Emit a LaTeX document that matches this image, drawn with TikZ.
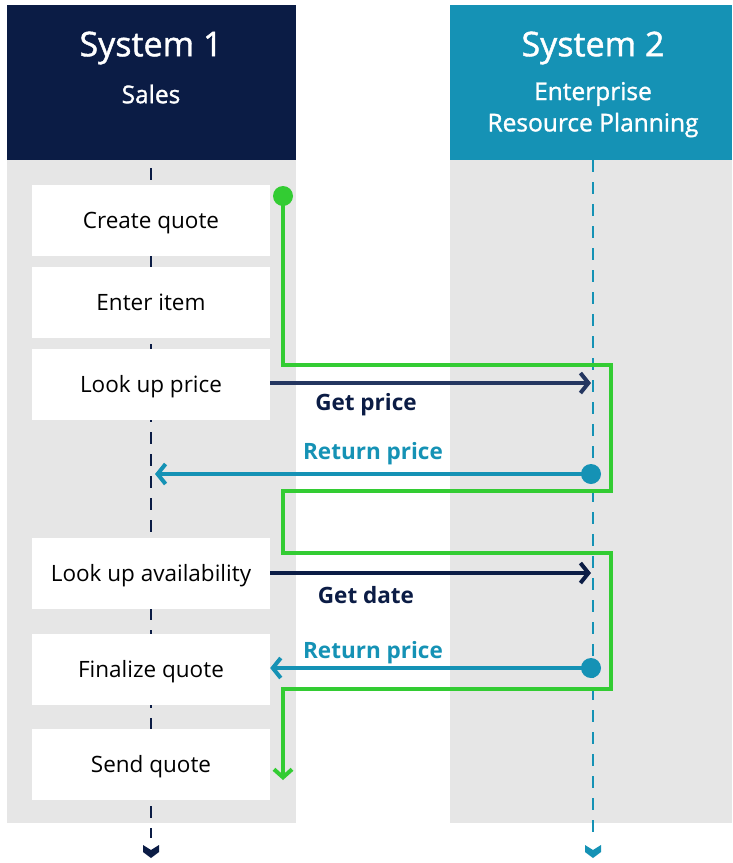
\documentclass[tikz,border=0pt]{standalone}
\usepackage{fontspec}
\setmainfont{Open Sans}
\newfontfamily\semib[FakeBold=1.3]{Open Sans}
\usetikzlibrary{arrows.meta}
\definecolor{navy}{HTML}{0B1C45}
\definecolor{navytwo}{HTML}{243660}
\definecolor{tealc}{HTML}{1592B5}
\definecolor{grn}{HTML}{33CC33}
\definecolor{lgray}{HTML}{E6E6E6}
\begin{document}
\begin{tikzpicture}[x=1pt,y=-1pt,
  stepbox/.style={fill=white, minimum width=238pt, minimum height=71pt, inner sep=0pt},
  btext/.style={font=\fontsize{22.5}{26}\selectfont, text=black, inner sep=0pt, text height=17pt, text depth=5.4pt, yshift=-2.5pt},
  hdr/.style={fill=#1, minimum height=155pt, inner sep=0pt, anchor=north west},
  htitle/.style={text=white, font=\semib\fontsize{34}{40}\selectfont},
  hsub/.style={text=white, font=\semib\fontsize{24.5}{28}\selectfont},
  life/.style={line width=2.5pt, dash pattern=on 12pt off 10pt},
  msg/.style={line width=4pt, -{Straight Barb[length=8pt,width=20pt]}},
  lbl/.style={font=\bfseries\fontsize{22.5}{26}\selectfont},
  flow/.style={grn, line width=4pt, line join=miter}
]
\useasboundingbox (0,0) rectangle (732,863);
% lane backgrounds
\fill[lgray] (7,160) rectangle (296,823);
\fill[lgray] (450,160) rectangle (732,823);
% headers
\node[hdr=navy, minimum width=289pt] (h1) at (7,5) {};
\node[hdr=tealc, minimum width=282pt] (h2) at (450,5) {};
\node[htitle] (t1) at (151,48) {System 1};
\node[hsub] (s1) at (151,94) {Sales};
\node[htitle] (t2) at (593,48) {System 2};
\node[hsub] (s2a) at (593,94) {Enterprise};
\node[hsub] (s2b) at (593,125) {Resource Planning};
% lifelines
\coordinate (l1top) at (151,168);
\coordinate (l1bot) at (151,838);
\coordinate (l2top) at (593,160);
\coordinate (l2bot) at (593,838);
\draw[navy, life] (l1top) -- (l1bot);
\draw[tealc, life] (l2top) -- (l2bot);
% chevrons
\fill[navy] (143,845) -- (151,850) -- (159,845) -- (159,852) -- (151,858) -- (143,852) -- cycle;
\fill[tealc] (585,845) -- (593,850) -- (601,845) -- (601,852) -- (593,858) -- (585,852) -- cycle;
% step boxes
\node[stepbox] (b1) at (151,220) {};
\node[stepbox] (b2) at (151,302.5) {};
\node[stepbox] (b3) at (151,384.5) {};
\node[stepbox] (b4) at (151,573.5) {};
\node[stepbox] (b5) at (151,669.5) {};
\node[stepbox] (b6) at (151,764.5) {};
\node[btext] (b1t) at (b1.center) {Create quote};
\node[btext] (b2t) at (b2.center) {Enter item};
\node[btext] (b3t) at (b3.center) {Look up price};
\node[btext] (b4t) at (b4.center) {Look up availability};
\node[btext] (b5t) at (b5.center) {Finalize quote};
\node[btext] (b6t) at (b6.center) {Send quote};
% green flow
\coordinate (gs) at (283,196);
\coordinate (g1) at (283,365);
\coordinate (g2) at (611,365);
\coordinate (g3) at (611,491);
\coordinate (g4) at (283,491);
\coordinate (g5) at (283,553);
\coordinate (g6) at (611,553);
\coordinate (g7) at (611,689);
\coordinate (g8) at (283,689);
\coordinate (ge) at (283,780);
\draw[flow, -{Straight Barb[length=8pt,width=18pt]}] (gs) -- (g1) -- (g2) -- (g3) -- (g4) -- (g5) -- (g6) -- (g7) -- (g8) -- (ge);
\fill[grn] (gs) circle (10);
% messages
\coordinate (gp) at (591,383);
\coordinate (rp1) at (591,474);
\coordinate (rl1) at (155,474);
\coordinate (gd) at (591,573);
\coordinate (rp2) at (591,668);
\draw[navytwo, msg] (b3.east |- gp) -- (gp);
\draw[tealc, msg] (rp1) -- (rl1);
\fill[tealc] (rp1) circle (10);
\draw[navy, msg] (b4.east |- gd) -- (gd);
\draw[tealc, msg] (rp2) -- (b5.east |- rp2);
\fill[tealc] (rp2) circle (10);
% labels
\node[lbl, text=navy] (lgp) at (366,405) {Get price};
\node[lbl, text=tealc] (lrp1) at (373,454) {Return price};
\node[lbl, text=navy] (lgd) at (366,595) {Get date};
\node[lbl, text=tealc] (lrp2) at (373,653) {Return price};
\end{tikzpicture}
\end{document}
